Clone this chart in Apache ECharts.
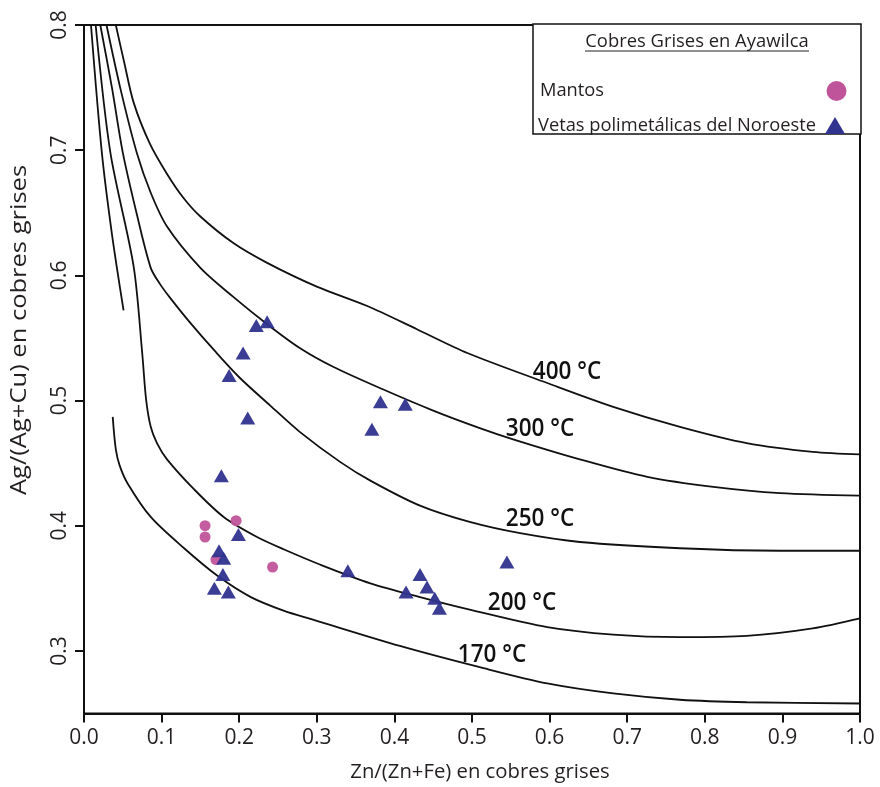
<!DOCTYPE html>
<html><head><meta charset="utf-8">
<script src="https://cdn.jsdelivr.net/npm/echarts@6/dist/echarts.min.js"></script>
<style>html,body{margin:0;padding:0;background:#fff}#c{width:880px;height:787px}</style>
</head><body><div id="c"></div>
<script>
// ---- data ----
const yTicks = [0.3, 0.4, 0.5, 0.6, 0.7, 0.8];
const isoNames = ['400 °C', '300 °C', '250 °C', '200 °C', '170 °C'];

const iso400 = [[0.041,0.8],[0.0515,0.771],[0.064,0.738],[0.085,0.705],[0.107,0.681],[0.128,0.662],[0.150,0.647],[0.192,0.626],[0.236,0.610],[0.300,0.591],[0.365,0.5755],[0.429,0.557],[0.494,0.538],[0.597,0.514],[0.682,0.495],[0.768,0.479],[0.854,0.466],[0.939,0.459],[1.0,0.457]];
const iso300 = [[0.029,0.8],[0.047,0.749],[0.068,0.698],[0.086,0.666],[0.107,0.639],[0.150,0.606],[0.192,0.583],[0.236,0.561],[0.278,0.542],[0.321,0.527],[0.385,0.509],[0.450,0.492],[0.510,0.478],[0.553,0.469],[0.639,0.453],[0.726,0.439],[0.811,0.431],[0.897,0.426],[1.0,0.424]];
const iso250 = [[0.021,0.8],[0.036,0.750],[0.050,0.698],[0.068,0.649],[0.086,0.606],[0.098,0.593],[0.111,0.582],[0.137,0.562],[0.168,0.540],[0.201,0.518],[0.240,0.496],[0.278,0.475],[0.330,0.451],[0.369,0.436],[0.433,0.416],[0.497,0.403],[0.562,0.394],[0.639,0.387],[0.768,0.382],[0.897,0.380],[1.0,0.380]];
const iso200 = [[0.015,0.8],[0.034,0.698],[0.064,0.607],[0.075,0.538],[0.080,0.501],[0.086,0.479],[0.094,0.466],[0.107,0.453],[0.142,0.429],[0.180,0.407],[0.223,0.391],[0.258,0.381],[0.304,0.369],[0.369,0.354],[0.433,0.343],[0.497,0.333],[0.597,0.319],[0.682,0.313],[0.768,0.311],[0.854,0.312],[0.939,0.318],[1.0,0.326]];
const isoShort = [[0.009,0.8],[0.023,0.698],[0.036,0.633],[0.051,0.572]];
const iso170 = [[0.037,0.487],[0.041,0.461],[0.046,0.448],[0.056,0.434],[0.086,0.407],[0.129,0.382],[0.172,0.360],[0.215,0.343],[0.258,0.332],[0.295,0.325],[0.407,0.304],[0.510,0.287],[0.597,0.274],[0.682,0.266],[0.768,0.261],[0.854,0.259],[1.0,0.258]];

const mantos = [[0.156,0.400],[0.156,0.391],[0.196,0.404],[0.170,0.373],[0.243,0.367]];
const vetas = [[0.222,0.560],[0.236,0.563],[0.205,0.538],[0.187,0.520],[0.211,0.486],[0.177,0.440],[0.199,0.393],[0.174,0.380],[0.180,0.374],[0.179,0.361],[0.168,0.350],[0.186,0.347],[0.382,0.499],[0.414,0.497],[0.371,0.477],[0.545,0.371],[0.340,0.364],[0.433,0.361],[0.442,0.351],[0.415,0.347],[0.452,0.342],[0.458,0.334]];

// ---- chart ----
const FONT = 'Open Sans';
const TXT = '#231f20';
const PINK = '#c0549a';
const BLUE = '#30338f';

const lineSeries = (name, data) => ({
  name, type: 'line', data, showSymbol: false, smooth: 0.3,
  lineStyle: { color: '#111', width: 1.8 }, z: 2, silent: true, animation: false
});

const isoLabel = (text, x, y) => ({
  type: 'text', x, y, scaleY: 1.08, z: 10,
  style: { text, fill: '#111', font: '600 22.5px "Open Sans"', align: 'center', verticalAlign: 'middle' }
});

const chart = echarts.init(document.getElementById('c'), null, { renderer: 'canvas' });
chart.setOption({
  animation: false,
  backgroundColor: '#fff',
  grid: { left: 84, right: 20, top: 25, bottom: 73.5, show: true, borderColor: '#111', borderWidth: 2, backgroundColor: 'transparent' },
  xAxis: {
    type: 'value', min: 0, max: 1, interval: 0.1,
    axisLine: { show: true, lineStyle: { color: '#111', width: 2 } },
    axisTick: { show: true, inside: false, length: 9, lineStyle: { color: '#111', width: 2 } },
    axisLabel: { color: TXT, fontFamily: FONT, fontSize: 21, margin: 14, formatter: v => v.toFixed(1) },
    splitLine: { show: false }
  },
  yAxis: {
    type: 'value', min: 0.25, max: 0.8,
    axisLine: { show: true, lineStyle: { color: '#111', width: 2 } },
    axisTick: { show: true, inside: false, length: 9, lineStyle: { color: '#111', width: 2 }, customValues: yTicks },
    axisLabel: { color: TXT, fontFamily: FONT, fontSize: 21, margin: 13, rotate: 90, customValues: yTicks, formatter: v => v.toFixed(1) },
    splitLine: { show: false }
  },
  series: [
    lineSeries(isoNames[0], iso400),
    lineSeries(isoNames[1], iso300),
    lineSeries(isoNames[2], iso250),
    lineSeries(isoNames[3], iso200),
    lineSeries('', isoShort),
    lineSeries(isoNames[4], iso170),
    { name: 'Mantos', type: 'scatter', data: mantos, symbol: 'circle', symbolSize: 11,
      itemStyle: { color: PINK, opacity: 0.95 }, z: 4 },
    { name: 'Vetas polimetálicas del Noroeste', type: 'scatter', data: vetas, symbol: 'triangle', symbolSize: [15, 13],
      itemStyle: { color: BLUE, opacity: 0.95 }, z: 5 }
  ],
  graphic: [
    // axis names
    { type: 'text', x: 480, y: 772, style: { text: 'Zn/(Zn+Fe) en cobres grises', fill: TXT, font: '20.3px "Open Sans"', align: 'center', verticalAlign: 'middle' } },
    { type: 'text', x: 20, y: 330, rotation: Math.PI / 2, scaleX: 1.16, style: { text: 'Ag/(Ag+Cu) en cobres grises', fill: TXT, font: '22px "Open Sans"', align: 'center', verticalAlign: 'middle' } },
    // isotherm labels
    isoLabel(isoNames[0], 567, 372),
    isoLabel(isoNames[1], 540, 429),
    isoLabel(isoNames[2], 540, 519),
    isoLabel(isoNames[3], 522, 603),
    isoLabel(isoNames[4], 492, 655),
    // legend box
    { type: 'rect', shape: { x: 533, y: 24, width: 328, height: 110 }, style: { fill: '#fff', stroke: '#111', lineWidth: 1.5 }, z: 20 },
    { type: 'text', x: 697, y: 42, style: { text: 'Cobres Grises en Ayawilca', fill: TXT, font: '18.4px "Open Sans"', align: 'center', verticalAlign: 'middle' }, z: 21 },
    { type: 'line', shape: { x1: 585, y1: 51, x2: 809, y2: 51 }, style: { stroke: TXT, lineWidth: 1 }, z: 21 },
    { type: 'text', x: 540, y: 91, style: { text: 'Mantos', fill: TXT, font: '18.3px "Open Sans"', align: 'left', verticalAlign: 'middle' }, z: 21 },
    { type: 'circle', shape: { cx: 836.5, cy: 91, r: 10 }, style: { fill: PINK }, z: 21 },
    { type: 'text', x: 538, y: 126, style: { text: 'Vetas polimetálicas del Noroeste', fill: TXT, font: '18.3px "Open Sans"', align: 'left', verticalAlign: 'middle' }, z: 21 },
    { type: 'polygon', shape: { points: [[825, 134], [845, 134], [835, 117]] }, style: { fill: BLUE }, z: 21 }
  ]
});
</script></body></html>
